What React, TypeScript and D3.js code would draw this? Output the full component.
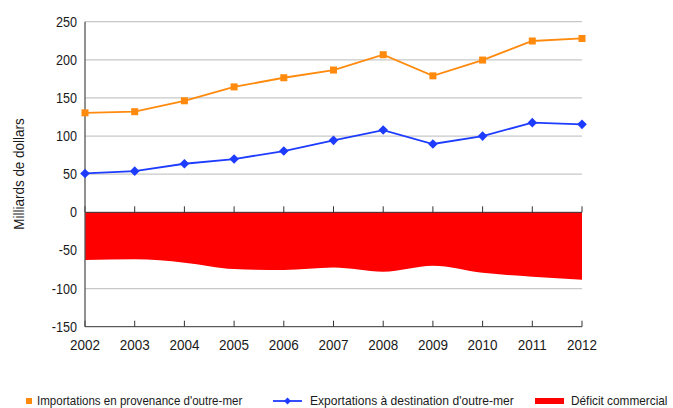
import React from "react";
import * as d3 from "d3";

const years = [2002, 2003, 2004, 2005, 2006, 2007, 2008, 2009, 2010, 2011, 2012];
const imports = [130.5, 132, 146.3, 164.5, 176.5, 186.6, 206.7, 179, 199.7, 224.7, 228];
const exportsV = [51, 54, 63.7, 69.9, 80.4, 94.4, 107.9, 89.6, 100, 117.6, 115.4];
const deficit = [-62.6, -61.7, -66, -74.4, -75.7, -72.4, -77.9, -70, -79.2, -84.4, -88.4];
const yTicks = [250, 200, 150, 100, 50, 0, -50, -100, -150];
const gridValues = [250, 200, 150, 100, 50, -100];
const legendLabels = [
  "Importations en provenance d'outre-mer",
  "Exportations à destination d'outre-mer",
  "Déficit commercial",
];

const FONT = "'Liberation Sans', Arial, sans-serif";

export default function App() {
  const W = 673, H = 408;
  const x = d3.scaleLinear().domain([2002, 2012]).range([85, 582]);
  const y = d3.scaleLinear().domain([-150, 250]).range([326.7, 21.7]);

  const line = d3.line<number>().x((_, i) => x(years[i])).y((d) => y(d));
  const area = d3
    .area<number>()
    .x((_, i) => x(years[i]))
    .y0(() => y(0))
    .y1((d) => y(d))
    .curve(d3.curveMonotoneX);

  const diamond = (cx: number, cy: number, r: number) =>
    `M${cx},${cy - r}L${cx + r},${cy}L${cx},${cy + r}L${cx - r},${cy}Z`;

  return (
    <svg width={W} height={H} style={{ position: "absolute", left: 0, top: 0, background: "#fff" }} fontFamily={FONT}>
      {gridValues.map((v) => (
        <line key={v} x1={x(2002)} x2={x(2012)} y1={y(v)} y2={y(v)} stroke="#c8c8c8" strokeWidth={1.3} />
      ))}
      <path d={area(deficit) || ""} fill="#ff0000" />
      <line x1={x(2002)} x2={x(2012)} y1={y(0)} y2={y(0)} stroke="#333" strokeWidth={1} />
      {years.map((yr) => (
        <line key={"t0" + yr} x1={x(yr)} x2={x(yr)} y1={y(0)} y2={y(0) - 6} stroke="#333" strokeWidth={1} />
      ))}
      <line x1={x(2002)} x2={x(2012)} y1={y(-150)} y2={y(-150)} stroke="#333" strokeWidth={1} />
      {years.map((yr) => (
        <line key={"tb" + yr} x1={x(yr)} x2={x(yr)} y1={y(-150)} y2={y(-150) - 6} stroke="#333" strokeWidth={1} />
      ))}
      <line x1={x(2002)} x2={x(2002)} y1={y(250)} y2={y(-150)} stroke="#555" strokeWidth={1.3} />
      {yTicks.map((v) => (
        <text key={"yl" + v} transform={`translate(77,${y(v) + 5}) scale(0.9,1)`} textAnchor="end" fontSize={14} fill="#1a1a1a">
          {v}
        </text>
      ))}
      {years.map((yr) => (
        <text key={"xl" + yr} transform={`translate(${x(yr)},350) scale(0.93,1)`} textAnchor="middle" fontSize={14.5} fill="#1a1a1a">
          {yr}
        </text>
      ))}
      <text
        transform={`translate(24,174) rotate(-90) scale(0.96,1)`}
        textAnchor="middle"
        fontSize={14}
        fill="#1a1a1a"
      >
        Milliards de dollars
      </text>
      <path d={line(imports) || ""} fill="none" stroke="#ff8a0d" strokeWidth={1.8} />
      {imports.map((v, i) => (
        <rect key={"im" + i} x={x(years[i]) - 3.5} y={y(v) - 3.5} width={7} height={7} fill="#ff8a0d" />
      ))}
      <path d={line(exportsV) || ""} fill="none" stroke="#1e3cff" strokeWidth={1.8} />
      {exportsV.map((v, i) => (
        <path key={"ex" + i} d={diamond(x(years[i]), y(v), 4.8)} fill="#1e3cff" />
      ))}
      <rect x={26} y={398} width={6} height={6} fill="#ff8a0d" />
      <text transform={`translate(37,404.5) scale(0.89,1)`} fontSize={13} fill="#1a1a1a">{legendLabels[0]}</text>
      <line x1={273} x2={302} y1={401} y2={401} stroke="#1e3cff" strokeWidth={1.8} />
      <path d={diamond(287.5, 401, 3.5)} fill="#1e3cff" />
      <text transform={`translate(310,404.5) scale(0.93,1)`} fontSize={13} fill="#1a1a1a">{legendLabels[1]}</text>
      <rect x={535} y={398} width={29} height={6} fill="#ff0000" />
      <text transform={`translate(571,404.5) scale(0.91,1)`} fontSize={13} fill="#1a1a1a">{legendLabels[2]}</text>
    </svg>
  );
}
